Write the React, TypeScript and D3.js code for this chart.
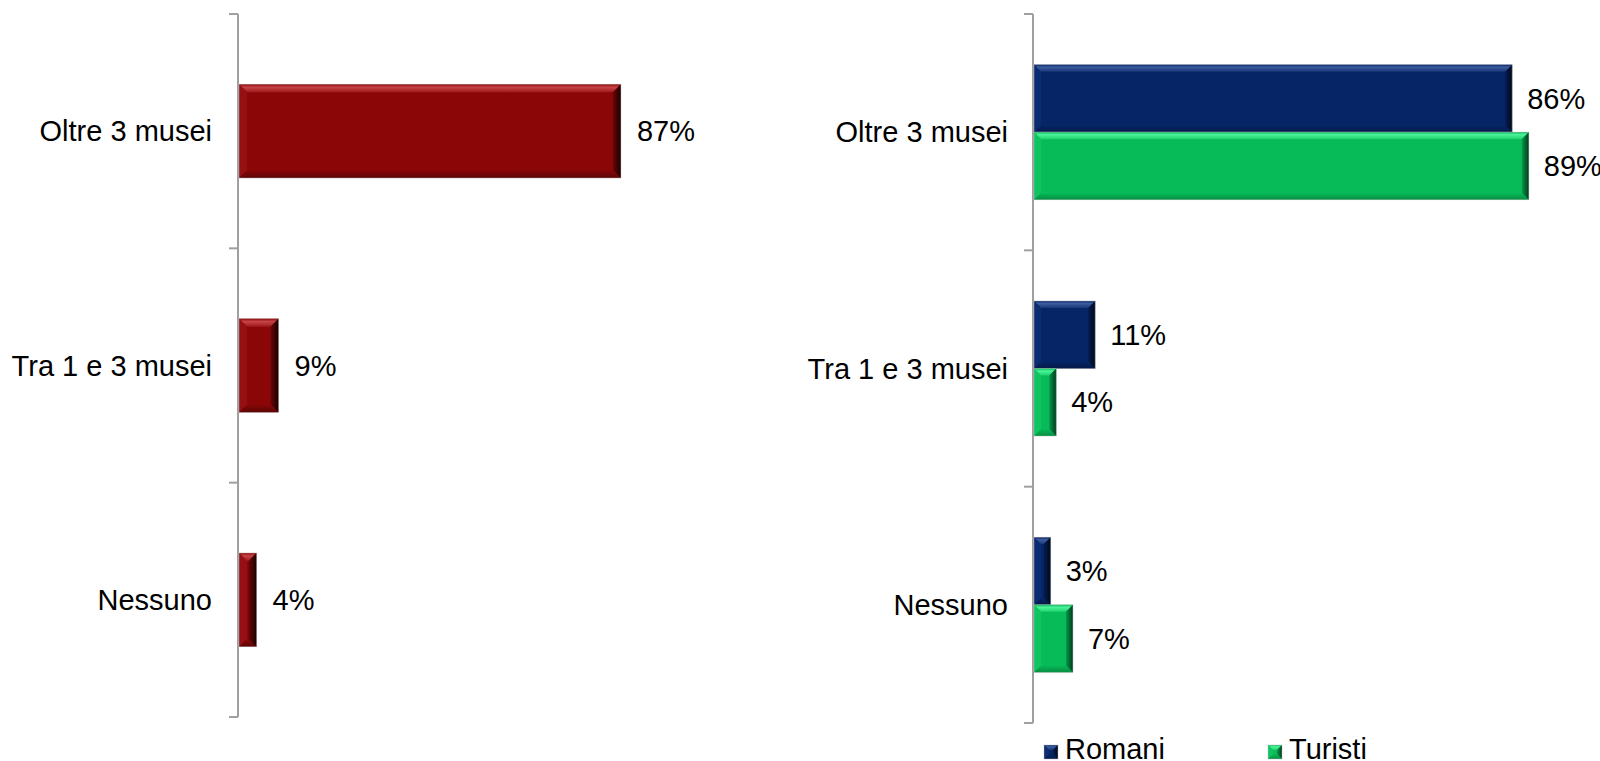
import React from "react";
import * as d3 from "d3";

const categories = ["Oltre 3 musei", "Tra 1 e 3 musei", "Nessuno"];
const totalValues = [87, 9, 4];
const seriesNames = ["Romani", "Turisti"];
const romaniValues = [86, 11, 3];
const turistiValues = [89, 4, 7];

type Pal = { key: string; base: string; top: string; topEdge: string; left: string; bottom: string; right: string; rightEdge: string };

const RED: Pal = { key: "red", base: "#8b0607", top: "#a01a1c", topEdge: "#c64447", left: "#951012", bottom: "#5a0607", right: "#6a0506", rightEdge: "#1a0000" };
const NAVY: Pal = { key: "navy", base: "#062567", top: "#17377a", topEdge: "#3d5c9e", left: "#0b2c70", bottom: "#041a4a", right: "#051d52", rightEdge: "#010818" };
const GREEN: Pal = { key: "green", base: "#07bb58", top: "#1fd26d", topEdge: "#4cf29a", left: "#10c462", bottom: "#058e42", right: "#06994a", rightEdge: "#013a1a" };
const PALS = [RED, NAVY, GREEN];
const seriesPals = [NAVY, GREEN];

const FONT = "'Liberation Sans', Arial, sans-serif";
const FS = 29;

function Defs() {
  return (
    <defs>
      {PALS.map((p) => (
        <React.Fragment key={p.key}>
          <linearGradient id={`${p.key}-top`} x1="0" y1="0" x2="0" y2="1">
            <stop offset="0" stopColor={p.base} />
            <stop offset="0.35" stopColor={p.topEdge} />
            <stop offset="1" stopColor={p.top} />
          </linearGradient>
          <linearGradient id={`${p.key}-right`} x1="0" y1="0" x2="1" y2="0">
            <stop offset="0" stopColor={p.right} />
            <stop offset="1" stopColor={p.rightEdge} />
          </linearGradient>
          <linearGradient id={`${p.key}-bottom`} x1="0" y1="0" x2="0" y2="1">
            <stop offset="0" stopColor={p.base} />
            <stop offset="1" stopColor={p.bottom} />
          </linearGradient>
        </React.Fragment>
      ))}
    </defs>
  );
}

function BevelBar({ x, y, w, h, pal, bevel = 8 }: { x: number; y: number; w: number; h: number; pal: Pal; bevel?: number }) {
  const b = Math.max(0, Math.min(bevel, w / 2, h / 2));
  const x1 = x + w;
  const y1 = y + h;
  const pts = (a: number[][]) => a.map((p) => p.join(",")).join(" ");
  return (
    <g>
      <rect x={x} y={y} width={w} height={h} fill={pal.base} />
      <polygon points={pts([[x, y], [x1, y], [x1 - b, y + b], [x + b, y + b]])} fill={`url(#${pal.key}-top)`} />
      <polygon points={pts([[x, y1], [x1, y1], [x1 - b, y1 - b], [x + b, y1 - b]])} fill={`url(#${pal.key}-bottom)`} />
      <polygon points={pts([[x, y], [x + b, y + b], [x + b, y1 - b], [x, y1]])} fill={pal.left} />
      <polygon points={pts([[x1, y], [x1 - b, y + b], [x1 - b, y1 - b], [x1, y1]])} fill={`url(#${pal.key}-right)`} />
      <rect x={x} y={y} width={w} height={h} fill="none" stroke="#b8b8b8" strokeOpacity={0.55} strokeWidth={0.8} />
    </g>
  );
}

function Axis({ x, y0, step, n }: { x: number; y0: number; step: number; n: number }) {
  const ticks = d3.range(n + 1).map((i) => y0 + i * step);
  return (
    <g stroke="#a0a0a0" strokeWidth={2}>
      <line x1={x} x2={x} y1={ticks[0]} y2={ticks[n]} />
      {ticks.map((t, i) => (
        <line key={i} x1={x - 9} x2={x} y1={t} y2={t} />
      ))}
    </g>
  );
}

export default function App() {
  // Left chart
  const lAxisX = 238;
  const lx = d3.scaleLinear().domain([0, 100]).range([lAxisX + 1, lAxisX + 1 + 439]);
  const ly = d3.scaleBand<string>().domain(categories).range([14, 717]).paddingInner(0.6).paddingOuter(0.3);
  const lStep = ly.step();

  // Right chart
  const rAxisX = 1033;
  const rx = d3.scaleLinear().domain([0, 100]).range([rAxisX + 1, rAxisX + 1 + 556]);
  const ry = d3.scaleBand<string>().domain(categories).range([14, 723]).paddingInner(1.5 / 3.5).paddingOuter(0.75 / 3.5);
  const rStep = ry.step();
  const rInner = d3.scaleBand<string>().domain(seriesNames).range([0, ry.bandwidth()]);
  const rSeries = [romaniValues, turistiValues];

  const legendX = [1044, 1268];

  return (
    <svg width={1600} height={761} style={{ position: "absolute", left: 0, top: 0, display: "block", background: "#fff" }} fontFamily={FONT}>
      <Defs />
      <rect x={0} y={0} width={1600} height={761} fill="#fff" />

      {/* Left chart */}
      <Axis x={lAxisX} y0={14} step={lStep} n={categories.length} />
      {categories.map((c, i) => {
        const y = ly(c)!;
        const h = ly.bandwidth();
        const w = lx(totalValues[i]) - lx(0);
        return (
          <g key={c}>
            <BevelBar x={lx(0)} y={y} w={w} h={h} pal={RED} />
            <text x={lx(totalValues[i]) + 16} y={y + h / 2} dy="0.35em" fontSize={FS} fill="#000">
              {`${totalValues[i]}%`}
            </text>
            <text x={212} y={y + h / 2} dy="0.35em" fontSize={FS} fill="#000" textAnchor="end">
              {c}
            </text>
          </g>
        );
      })}

      {/* Right chart */}
      <Axis x={rAxisX} y0={14} step={rStep} n={categories.length} />
      {categories.map((c, i) => {
        const y0 = ry(c)!;
        return (
          <g key={c}>
            {seriesNames.map((s, si) => {
              const v = rSeries[si][i];
              const y = y0 + rInner(s)!;
              const h = rInner.bandwidth();
              return (
                <g key={s}>
                  <BevelBar x={rx(0)} y={y} w={rx(v) - rx(0)} h={h} pal={seriesPals[si]} bevel={7} />
                  <text x={rx(v) + 15} y={y + h / 2} dy="0.35em" fontSize={FS} fill="#000">
                    {`${v}%`}
                  </text>
                </g>
              );
            })}
            <text x={1008} y={y0 + ry.bandwidth() / 2} dy="0.35em" fontSize={FS} fill="#000" textAnchor="end">
              {c}
            </text>
          </g>
        );
      })}

      {/* Legend */}
      {seriesNames.map((s, si) => (
        <g key={s}>
          <BevelBar x={legendX[si]} y={745} w={14} h={14} pal={seriesPals[si]} bevel={5} />
          <text x={legendX[si] + 21} y={759} fontSize={FS} fill="#000">
            {s}
          </text>
        </g>
      ))}
    </svg>
  );
}
